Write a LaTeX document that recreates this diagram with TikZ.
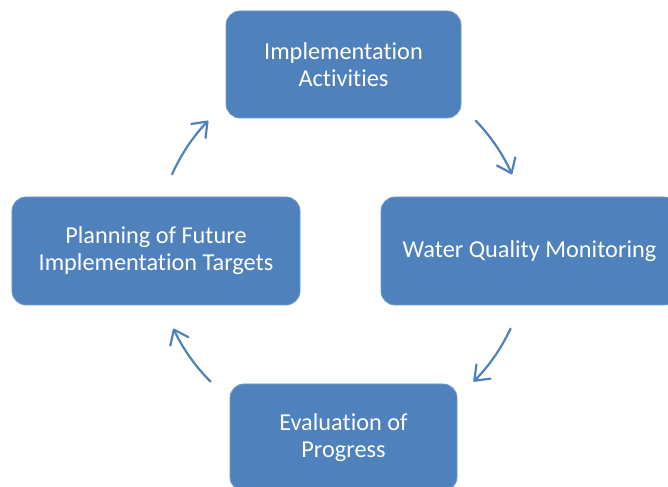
\documentclass[tikz,border=0pt]{standalone}
\usepackage{fontspec}
\setmainfont{Carlito}[Ligatures={NoCommon,NoDiscretionary,NoRare}]
\usetikzlibrary{arrows.meta,calc}
\definecolor{boxblue}{HTML}{4F81BD}
\begin{document}
\begin{tikzpicture}[x=1bp,y=1bp,
  box/.style={fill=boxblue, draw=boxblue!80!white, line width=0.8bp, rounded corners=14bp,
    text=white, align=center, font=\fontsize{24.4}{27}\selectfont, inner sep=0pt},
  arr/.style={draw=boxblue, line width=2.2bp, line cap=round,
    -{Straight Barb[length=13bp,width=20bp,round]}}]
\useasboundingbox (0,0) rectangle (668,487);
\clip (0,0) rectangle (668,487);
\node[box, minimum width=235bp, minimum height=107bp] (impl) at (343.5,422.5) {Implementation\\Activities};
\node[box, minimum width=297bp, minimum height=108bp] (wqm) at (529.5,236) {Water Quality Monitoring};
\node[box, minimum width=227bp, minimum height=107bp] (eval) at (343.5,49.5) {Evaluation of\\Progress};
\node[box, minimum width=288bp, minimum height=108bp] (plan) at (156,236) {Planning of Future\\Implementation Targets};
\coordinate (c) at (342,237);
\coordinate (a1) at ($(c)+(156:186)$);
\coordinate (a2) at ($(c)+(44:186)$);
\coordinate (a3) at ($(c)+(-25:186)$);
\coordinate (a4) at ($(c)+(-135:186)$);
\draw[arr] (a1) arc[start angle=156, end angle=136, radius=186];
\draw[arr] (a2) arc[start angle=44, end angle=24, radius=186];
\draw[arr] (a3) arc[start angle=-25, end angle=-45, radius=186];
\draw[arr] (a4) arc[start angle=-135, end angle=-155, radius=186];
\end{tikzpicture}
\end{document}
